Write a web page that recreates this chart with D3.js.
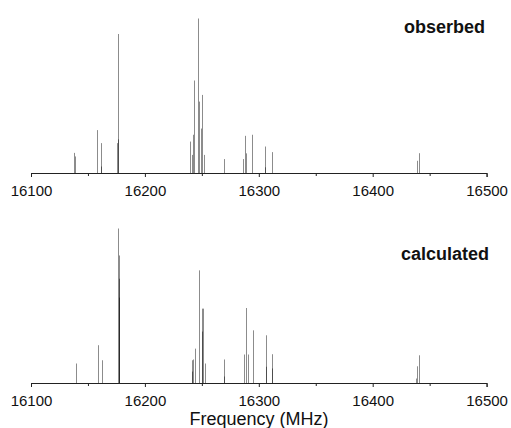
<!DOCTYPE html>
<html><head><meta charset="utf-8">
<script src="https://cdn.jsdelivr.net/npm/d3@7"></script>
<style>
html,body{margin:0;padding:0;background:#fff;}
svg{display:block;}
text{font-family:"Liberation Sans",Arial,sans-serif;}
</style></head>
<body><svg id="c" width="511" height="428"></svg>
<script>
// Observed spectrum: frequency (MHz) and relative intensity
const obsFreq = [16138.0,16138.9,16157.9,16161.7,16161.8,16175.4,16176.1,16176.7,
  16239.9,16241.0,16242.0,16242.8,16246.9,16247.8,16249.0,16250.4,16252.2,
  16269.2,16286.1,16288.2,16289.0,16294.0,16305.7,16305.8,16311.3,16438.9,16440.3];
const obsInt  = [13.3,11.0,28.0,19.6,4.5,19.6,90.0,22.0,
  20.6,12.0,25.0,60.0,100.0,46.4,29.0,50.7,12.0,
  9.3,9.3,24.3,13.0,25.0,17.4,4.0,13.8,8.2,13.1];
// Calculated spectrum
const calcFreq = [16139.8,16158.8,16162.3,16176.8,16176.9,16177.0,16177.1,
  16241.1,16241.3,16242.5,16243.7,16247.5,16249.9,16250.0,16251.0,16253.0,
  16269.7,16269.8,16286.7,16289.0,16290.2,16294.6,16306.3,16306.4,16311.6,16311.7,
  16438.0,16439.2,16440.6];
const calcInt  = [12.9,24.7,15.0,100.0,82.6,67.6,55.4,
  15.0,7.7,15.5,22.5,73.0,48.3,33.5,48.3,12.9,
  15.5,4.5,18.7,48.7,18.7,34.3,31.1,10.8,18.9,9.7,
  3.2,11.1,18.2];
const majorTicks = [16100,16200,16300,16400,16500];
const minorTicks = [16150,16250,16350,16450];
const panelTitles = ["obserbed","calculated"];
const xLabel = "Frequency (MHz)";

const svg = d3.select("#c");
const x = d3.scaleLinear().domain([16100,16500]).range([31,486.6]);

const panels = [
  {freq: obsFreq, inten: obsInt, base: 173, title: panelTitles[0], tx: 485, ty: 33},
  {freq: calcFreq, inten: calcInt, base: 383, title: panelTitles[1], tx: 489, ty: 260}
];

panels.forEach(p => {
  const y = d3.scaleLinear().domain([0,100]).range([p.base+0.5, p.base+0.5-155]);
  const g = svg.append("g");
  g.selectAll("line.pk").data(p.freq.map((f,i)=>({f, v:p.inten[i]})))
    .enter().append("line").attr("class","pk")
    .attr("x1", d => Math.round(x(d.f))+0.5).attr("x2", d => Math.round(x(d.f))+0.5)
    .attr("y1", y(0)).attr("y2", d => y(d.v))
    .attr("stroke","#000").attr("stroke-opacity",0.45).attr("stroke-width",1);

  const ax = d3.axisBottom(x).tickValues(majorTicks).tickSize(4).tickPadding(8)
    .tickFormat(d3.format("d"));
  const ag = svg.append("g").attr("transform",`translate(0,${p.base})`).call(ax);
  ag.select(".domain").attr("stroke","#222");
  ag.selectAll(".tick line").attr("stroke","#222");
  ag.selectAll("text").attr("font-size",15).attr("fill","#111")
    .attr("font-family","Liberation Sans, Arial, sans-serif");
  const mg = svg.append("g").attr("transform",`translate(0,${p.base})`)
    .call(d3.axisBottom(x).tickValues(minorTicks).tickSize(3).tickFormat(""));
  mg.select(".domain").remove();
  mg.selectAll(".tick line").attr("stroke","#222");

  svg.append("text").attr("x",p.tx).attr("y",p.ty).attr("text-anchor","end")
    .attr("font-size",18).attr("font-weight","bold").attr("fill","#111").text(p.title);
});

svg.append("text").attr("x",259).attr("y",425).attr("text-anchor","middle")
  .attr("font-size",18).attr("fill","#111").text(xLabel);
</script></body></html>
